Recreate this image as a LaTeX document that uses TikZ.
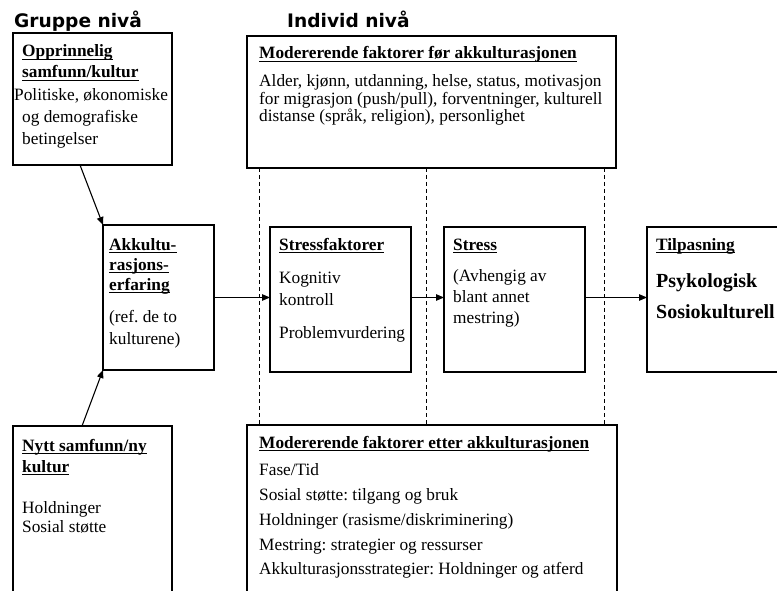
\documentclass[tikz,border=0pt]{standalone}
\usepackage{fontspec}
\setmainfont{Liberation Serif}
\newfontfamily\lvlfont{DejaVu Sans Bold}
\usetikzlibrary{arrows.meta,calc}
\newcommand\ulx[1]{\setbox0\hbox{#1}\rlap{\rule[-3pt]{\wd0}{1.2pt}}\box0}
\frenchspacing
\begin{document}
\frenchspacing
\begin{tikzpicture}[x=1pt,y=-1pt,
  box/.style={draw, line width=1.3pt, inner sep=0pt, outer sep=0pt, anchor=north west},
  txt/.style={anchor=base west, inner sep=0pt, font=\fontsize{17.3}{17}\selectfont},
  hd/.style={anchor=base west, inner sep=0pt, font=\fontsize{17.3}{17}\selectfont\bfseries},
  big/.style={anchor=base west, inner sep=0pt, font=\fontsize{20}{20}\selectfont\bfseries},
  lvl/.style={anchor=base west, inner sep=0pt, font=\lvlfont\fontsize{18.6}{19}\selectfont},
  arr/.style={line width=1.1pt, -{Triangle[length=8pt,width=6.5pt]}},
  sep/.style={line width=0.9pt, dash pattern=on 4pt off 3pt}]
\useasboundingbox (0,0) rectangle (777,591);
\clip (0,0) rectangle (777,591);
\fill[white] (0,0) rectangle (777,591);

% level titles
\node[lvl] (gruppe) at (14,28) {Gruppe nivå};
\node[lvl] (individ) at (287,28) {Individ nivå};

% boxes
\node[box, minimum width=159pt, minimum height=132pt] (orig) at (13,33) {};
\node[box, minimum width=369pt, minimum height=132pt] (mfor) at (247,36) {};
\node[box, minimum width=111pt, minimum height=145pt] (akk) at (103,225) {};
\node[box, minimum width=141pt, minimum height=145pt] (stressf) at (270,227) {};
\node[box, minimum width=141pt, minimum height=145pt] (stress) at (444,227) {};
\node[box, minimum width=145pt, minimum height=145pt] (tilp) at (647,227) {};
\node[box, minimum width=159pt, minimum height=180pt] (nytt) at (13,426) {};
\node[box, minimum width=370pt, minimum height=180pt] (mefter) at (247,425) {};

% dashed separators
\foreach \dx/\nm in {12/da,179/db,357/dc}{
  \coordinate (\nm) at ([xshift=\dx pt]mfor.south west);
  \draw[sep] (\nm) -- (\nm |- mefter.north);
}

% arrows
\draw[arr] ([xshift=67pt]orig.south west) -- (akk.north west);
\draw[arr] ([xshift=69pt]nytt.north west) -- (akk.south west);
\draw[arr] (akk.east) -- (akk.east -| stressf.west);
\draw[arr] (stressf.east |- akk.east) -- (akk.east -| stress.west);
\draw[arr] (stress.east |- akk.east) -- (akk.east -| tilp.west);

% texts: Opprinnelig
\node[hd] (o1) at (22,57) {\ulx{Opprinnelig}};
\node[hd] (o2) at (22,78) {\ulx{samfunn/kultur}};
\node[txt] (o3) at (14,101) {Politiske, økonomiske};
\node[txt] (o4) at (22,123) {og demografiske};
\node[txt] (o5) at (22,145) {betingelser};

% Modererende før
\node[hd] (f1) at (259,59) {\ulx{Modererende faktorer før akkulturasjonen}};
\node[txt] (f2) at (259,87) {Alder, kjønn, utdanning, helse, status, motivasjon};
\node[txt] (f3) at (259,104.5) {for migrasjon (push/pull), forventninger, kulturell};
\node[txt] (f4) at (259,122) {distanse (språk, religion), personlighet};

% Akkulturasjonserfaring
\node[hd] (a1) at (109,250) {\ulx{Akkultu-}};
\node[hd] (a2) at (109,270) {\ulx{rasjons-}};
\node[hd] (a3) at (109,290) {\ulx{erfaring}};
\node[txt] (a4) at (109,322) {(ref. de to};
\node[txt] (a5) at (109,344) {kulturene)};

% Stressfaktorer
\node[hd] (s1) at (279,250) {\ulx{Stressfaktorer}};
\node[txt] (s2) at (279,283) {Kognitiv};
\node[txt] (s3) at (279,305) {kontroll};
\node[txt] (s4) at (279,338) {Problemvurdering};

% Stress
\node[hd] (st1) at (453,250) {\ulx{Stress}};
\node[txt] (st2) at (453,281) {(Avhengig av};
\node[txt] (st3) at (453,302) {blant annet};
\node[txt] (st4) at (453,323) {mestring)};

% Tilpasning
\node[hd] (p1) at (656,250) {\ulx{Tilpasning}};
\node[big] (p2) at (656,287) {Psykologisk};
\node[big] (p3) at (656,318) {Sosiokulturell};

% Nytt samfunn
\node[hd] (n1) at (22,451) {\ulx{Nytt samfunn/ny}};
\node[hd] (n2) at (22,472) {\ulx{kultur}};
\node[txt] (n3) at (22,513) {Holdninger};
\node[txt] (n4) at (22,532) {Sosial støtte};

% Modererende etter
\node[hd] (e1) at (259,448) {\ulx{Modererende faktorer etter akkulturasjonen}};
\node[txt] (e2) at (259,475) {Fase/Tid};
\node[txt] (e3) at (259,500) {Sosial støtte: tilgang og bruk};
\node[txt] (e4) at (259,525) {Holdninger (rasisme/diskriminering)};
\node[txt] (e5) at (259,550) {Mestring: strategier og ressurser};
\node[txt] (e6) at (259,574) {Akkulturasjonsstrategier: Holdninger og atferd};
\end{tikzpicture}
\end{document}
